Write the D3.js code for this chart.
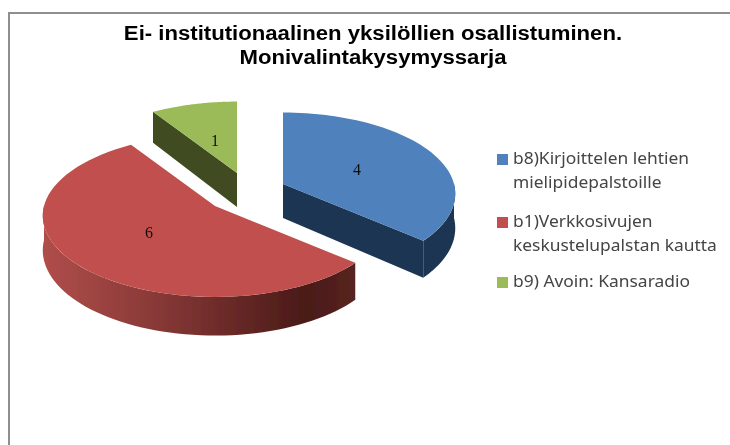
<!DOCTYPE html>
<html>
<head>
<meta charset="utf-8">
<script src="https://cdnjs.cloudflare.com/ajax/libs/d3/7.8.5/d3.min.js"></script>
<style>
    html, body { margin: 0; padding: 0; background: #fff; }
    svg { display: block; }
</style>
</head>
<body>
<svg id="chart" width="730" height="445"></svg>
<script>
var titleLines = ["Ei- institutionaalinen yksilöllien osallistuminen.", "Monivalintakysymyssarja"];
var categories = ["b8)Kirjoittelen lehtien mielipidepalstoille", "b1)Verkkosivujen keskustelupalstan kautta", "b9) Avoin: Kansaradio"];
var legendLines = [["b8)Kirjoittelen lehtien", "mielipidepalstoille"], ["b1)Verkkosivujen", "keskustelupalstan kautta"], ["b9) Avoin: Kansaradio"]];
var values = [4, 6, 1];
var topColors = ["#4f81bd", "#c0504d", "#9bbb59"];
var wallColors = ["#1f3552", "#8f3b39", "#3f4c20"];

// where each exploded slice has its apex
var apexes = [[283, 184], [215, 206], [237, 173]];
var labelPos = [[357, 170], [149, 233], [215, 141]];

var rx = 171, ry = 80, persp = 0.12, depth = 34;

var svg = d3.select("#chart");
var defs = svg.append("defs");

defs.append("filter").attr("id", "soft")
    .attr("filterUnits", "userSpaceOnUse")
    .attr("x", 0).attr("y", 0)
    .attr("width", 730).attr("height", 445)
    .append("feGaussianBlur").attr("stdDeviation", 0.6);

// gradient for the red rim, light on the left and dark towards the right
var redRim = defs.append("linearGradient").attr("id", "redRim").attr("gradientUnits", "userSpaceOnUse")
    .attr("x1", 42).attr("x2", 352).attr("y1", 0).attr("y2", 0);
redRim.append("stop").attr("offset", "0").attr("stop-color", "#b04e4b");
redRim.append("stop").attr("offset", "0.35").attr("stop-color", "#8a3a38");
redRim.append("stop").attr("offset", "0.85").attr("stop-color", "#4a1a18");
redRim.append("stop").attr("offset", "1").attr("stop-color", "#572220");

var root = svg.append("g").attr("filter", "url(#soft)");

// chart frame, only top and left show in the picture
root.append("path").attr("d", d3.line()([[9, 445], [9, 13], [730, 13]]))
    .attr("fill", "none").attr("stroke", "#8f8f8f").attr("stroke-width", 2);

// source text is wider than the installed fonts, stretch to fit
function stretch(sel, factor) {
    sel.each(function () {
        var w = this.getComputedTextLength();
        d3.select(this).attr("textLength", w * factor).attr("lengthAdjust", "spacingAndGlyphs");
    });
}

root.selectAll("text.title").data(titleLines).enter().append("text")
    .attr("class", "title")
    .attr("x", 373)
    .attr("y", function (d, i) { return 40 + i * 24; })
    .attr("text-anchor", "middle")
    .attr("font-family", "Liberation Sans")
    .attr("font-weight", "bold")
    .attr("font-size", 20)
    .attr("fill", "#000")
    .text(function (d) { return d; })
    .call(stretch, 1.107);

var pie = d3.pie().sort(null)(values);

// disc point seen in perspective, angle clockwise from the top
function project(i, a) {
    var s = 1 / (1 + persp * Math.cos(a));
    return [apexes[i][0] + rx * Math.sin(a) * s, apexes[i][1] - ry * Math.cos(a) * s, s];
}

function rimPoints(i, a0, a1) {
    return d3.range(0, 61).map(function (k) {
        return project(i, a0 + (a1 - a0) * k / 60);
    });
}

var line = d3.line().curve(d3.curveLinear);

function drop(p) {
    return [p[0], p[1] + depth * p[2]];
}

// cut face from the apex to the rim at angle a
function cutWall(i, a) {
    var p = project(i, a);
    var c = [apexes[i][0], apexes[i][1], 1];
    return line([c, p, drop(p), drop(c)]) + "Z";
}

function rimWall(i, a0, a1) {
    var upper = rimPoints(i, a0, a1);
    var lower = upper.map(drop).reverse();
    return line(upper.concat(lower)) + "Z";
}

function topFace(i) {
    var pts = rimPoints(i, pie[i].startAngle, pie[i].endAngle);
    return line([apexes[i]].concat(pts)) + "Z";
}

// back slice first
root.append("path").attr("d", cutWall(2, pie[2].startAngle)).attr("fill", wallColors[2]);
root.append("path").attr("d", topFace(2)).attr("fill", topColors[2]);

root.append("path").attr("d", cutWall(0, pie[0].endAngle)).attr("fill", wallColors[0]);
root.append("path").attr("d", rimWall(0, Math.PI / 2, pie[0].endAngle)).attr("fill", wallColors[0]);
root.append("path").attr("d", topFace(0)).attr("fill", topColors[0]);

root.append("path").attr("d", rimWall(1, pie[1].startAngle, 3 * Math.PI / 2)).attr("fill", "url(#redRim)");
root.append("path").attr("d", topFace(1)).attr("fill", topColors[1]);

root.selectAll("text.val").data(values).enter().append("text")
    .attr("class", "val")
    .attr("x", function (d, i) { return labelPos[i][0]; })
    .attr("y", function (d, i) { return labelPos[i][1] + 5; })
    .attr("text-anchor", "middle")
    .attr("font-family", "Liberation Serif")
    .attr("font-size", 16)
    .attr("fill", "#111")
    .text(function (d) { return d; });

// legend
var legendBase = [164, 227, 287];
var legend = root.selectAll("g.legend").data(categories).enter().append("g").attr("class", "legend");
legend.append("rect")
    .attr("x", 497)
    .attr("y", function (d, i) { return legendBase[i] - 10; })
    .attr("width", 11).attr("height", 11)
    .attr("fill", function (d, i) { return topColors[i]; });
legend.each(function (d, i) {
    d3.select(this).selectAll("text").data(legendLines[i]).enter().append("text")
        .attr("x", 513)
        .attr("y", function (t, k) { return legendBase[i] + k * 24; })
        .attr("font-family", "Noto Sans")
        .attr("font-size", 16)
        .attr("fill", "#444")
        .text(function (t) { return t; })
        .call(stretch, 1.087);
});
</script>
</body>
</html>
